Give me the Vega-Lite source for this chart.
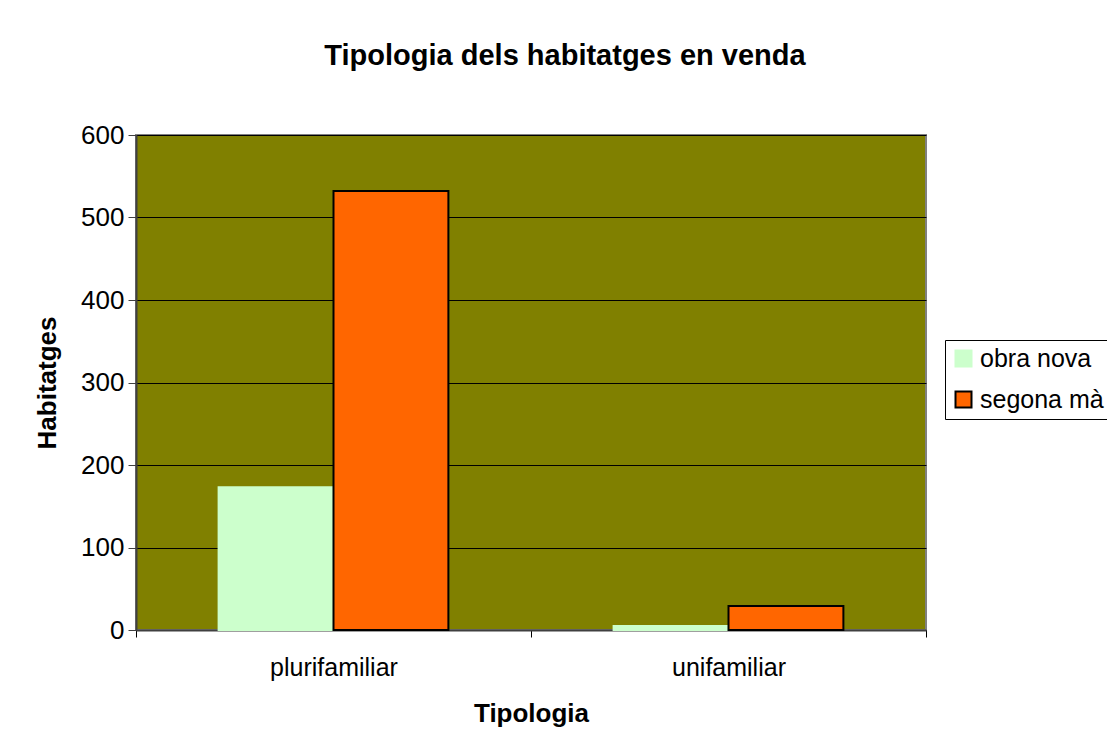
{
  "$schema": "https://vega.github.io/schema/vega-lite/v6.json",
  "autosize": "none",
  "padding": {"left": 136, "top": 135, "right": 181, "bottom": 115},
  "width": 790,
  "height": 495,
  "background": "white",
  "title": {
    "text": "Tipologia dels habitatges en venda",
    "font": "Liberation Sans",
    "fontSize": 29,
    "fontWeight": "bold",
    "color": "black",
    "anchor": "middle",
    "dx": 34,
    "offset": 51
  },
  "data": {
    "values": [
      {"tipologia": "plurifamiliar", "serie": "obra nova", "valor": 173},
      {"tipologia": "plurifamiliar", "serie": "segona mà", "valor": 532},
      {"tipologia": "unifamiliar", "serie": "obra nova", "valor": 5},
      {"tipologia": "unifamiliar", "serie": "segona mà", "valor": 29}
    ]
  },
  "mark": {"type": "bar", "strokeWidth": 2},
  "encoding": {
    "x": {
      "field": "tipologia",
      "type": "nominal",
      "scale": {"paddingInner": 0, "paddingOuter": 0},
      "axis": {
        "title": "Tipologia",
        "titleFont": "Liberation Sans",
        "titleFontSize": 26,
        "titleFontWeight": "bold",
        "titleColor": "black",
        "titlePadding": 20,
        "labelFont": "Liberation Sans",
        "labelFontSize": 25,
        "labelColor": "black",
        "labelAngle": 0,
        "labelPadding": 18,
        "tickBand": "extent",
        "tickColor": "black",
        "tickSize": 7,
        "domainColor": "#404040",
        "domainWidth": 2
      }
    },
    "xOffset": {"field": "serie", "type": "nominal", "scale": {"paddingInner": 0, "paddingOuter": 0.719}},
    "y": {
      "field": "valor",
      "type": "quantitative",
      "scale": {"domain": [0, 600]},
      "axis": {
        "title": "Habitatges",
        "titleFont": "Liberation Sans",
        "titleFontSize": 26,
        "titleFontWeight": "bold",
        "titleColor": "black",
        "titlePadding": 20,
        "labelFont": "Liberation Sans",
        "labelFontSize": 26,
        "labelColor": "black",
        "labelPadding": 4,
        "values": [0, 100, 200, 300, 400, 500, 600],
        "tickColor": "#404040",
        "tickSize": 8,
        "domainColor": "#404040",
        "domainWidth": 2,
        "gridColor": "black",
        "gridWidth": 1
      }
    },
    "color": {
      "field": "serie",
      "type": "nominal",
      "scale": {"domain": ["obra nova", "segona mà"], "range": ["#CCFFCC", "#FF6600"]},
      "legend": {
        "title": null,
        "orient": "none",
        "legendX": 809,
        "legendY": 205,
        "symbolType": "square",
        "symbolSize": 256,
        "symbolStrokeWidth": 2,
        "labelFont": "Liberation Sans",
        "labelFontSize": 25,
        "labelColor": "black",
        "labelOffset": 4,
        "rowPadding": 15,
        "padding": 6,
        "strokeColor": "black",
        "fillColor": "white"
      }
    },
    "stroke": {
      "field": "serie",
      "type": "nominal",
      "scale": {"domain": ["obra nova", "segona mà"], "range": ["#CCFFCC", "black"]},
      "legend": null
    }
  },
  "config": {
    "view": {"fill": "#808000", "stroke": "#808080", "strokeWidth": 2},
    "axis": {"gridDash": []}
  }
}
